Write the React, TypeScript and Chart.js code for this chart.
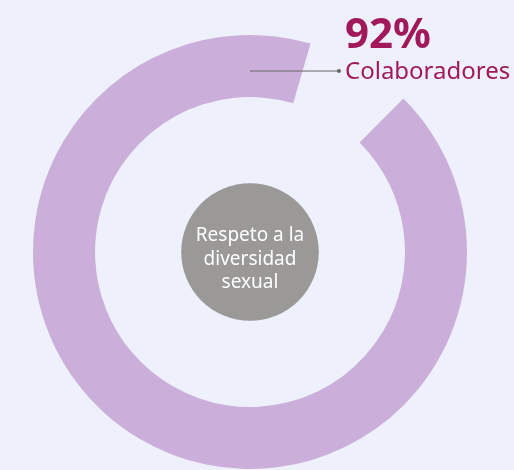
import React, { useEffect, useRef } from "react";
import { Chart, registerables } from "chart.js";

Chart.register(...registerables);

const categories = ["Colaboradores", ""];
const values = [92, 8];
const percentLabel = "92%";
const centerLines = ["Respeto a la", "diversidad", "sexual"];

const BG = "#EEF1FB";
const RING = "#CBAFDA";
const MAGENTA = "#A1195A";
const GRAY = "#9A9998";

const overlay = {
  id: "overlay",
  afterDraw(chart: any) {
    const ctx = chart.ctx;
    const meta = chart.getDatasetMeta(0);
    const arc = meta.data[0];
    const cx = arc.x;
    const cy = arc.y;
    const outer = arc.outerRadius;
    ctx.save();
    // center circle
    ctx.fillStyle = GRAY;
    ctx.beginPath();
    ctx.arc(cx, cy, outer * 0.317, 0, Math.PI * 2);
    ctx.fill();
    ctx.fillStyle = "#FFFFFF";
    ctx.font = "19px 'Noto Sans'";
    ctx.textAlign = "center";
    ctx.textBaseline = "alphabetic";
    centerLines.forEach((t, i) => {
      ctx.fillText(t, cx, cy - 11 + i * 23.5);
    });
    // leader line
    const ly = cy - outer * 0.834;
    ctx.strokeStyle = "#666666";
    ctx.lineWidth = 1;
    ctx.beginPath();
    ctx.moveTo(cx, ly);
    ctx.lineTo(cx + 89, ly);
    ctx.stroke();
    ctx.fillStyle = "#666666";
    ctx.beginPath();
    ctx.arc(cx + 89, ly, 2, 0, Math.PI * 2);
    ctx.fill();
    // labels
    ctx.textAlign = "left";
    ctx.fillStyle = MAGENTA;
    ctx.font = "bold 42px 'Noto Sans'";
    ctx.fillText(percentLabel, cx + 95, ly - 23);
    ctx.font = "24px 'Noto Sans'";
    ctx.fillText(categories[0], cx + 95, ly + 8);
    ctx.restore();
  },
};

export default function App() {
  const ref = useRef<HTMLCanvasElement>(null);
  useEffect(() => {
    document.body.style.margin = "0";
    const chart = new Chart(ref.current!, {
      type: "doughnut",
      data: {
        labels: categories,
        datasets: [
          {
            data: values,
            backgroundColor: [RING, "rgba(0,0,0,0)"],
            borderWidth: 0,
          },
        ],
      },
      options: {
        animation: false,
        responsive: false,
        rotation: 45,
        cutout: "71.4%",
        layout: { padding: { left: 33, right: 47, top: 35, bottom: 1 } },
        plugins: { legend: { display: false }, tooltip: { enabled: false } },
      },
      plugins: [overlay],
    });
    return () => chart.destroy();
  }, []);
  return (
    <div style={{ width: 514, height: 470, background: BG }}>
      <canvas ref={ref} width={514} height={470} />
    </div>
  );
}
